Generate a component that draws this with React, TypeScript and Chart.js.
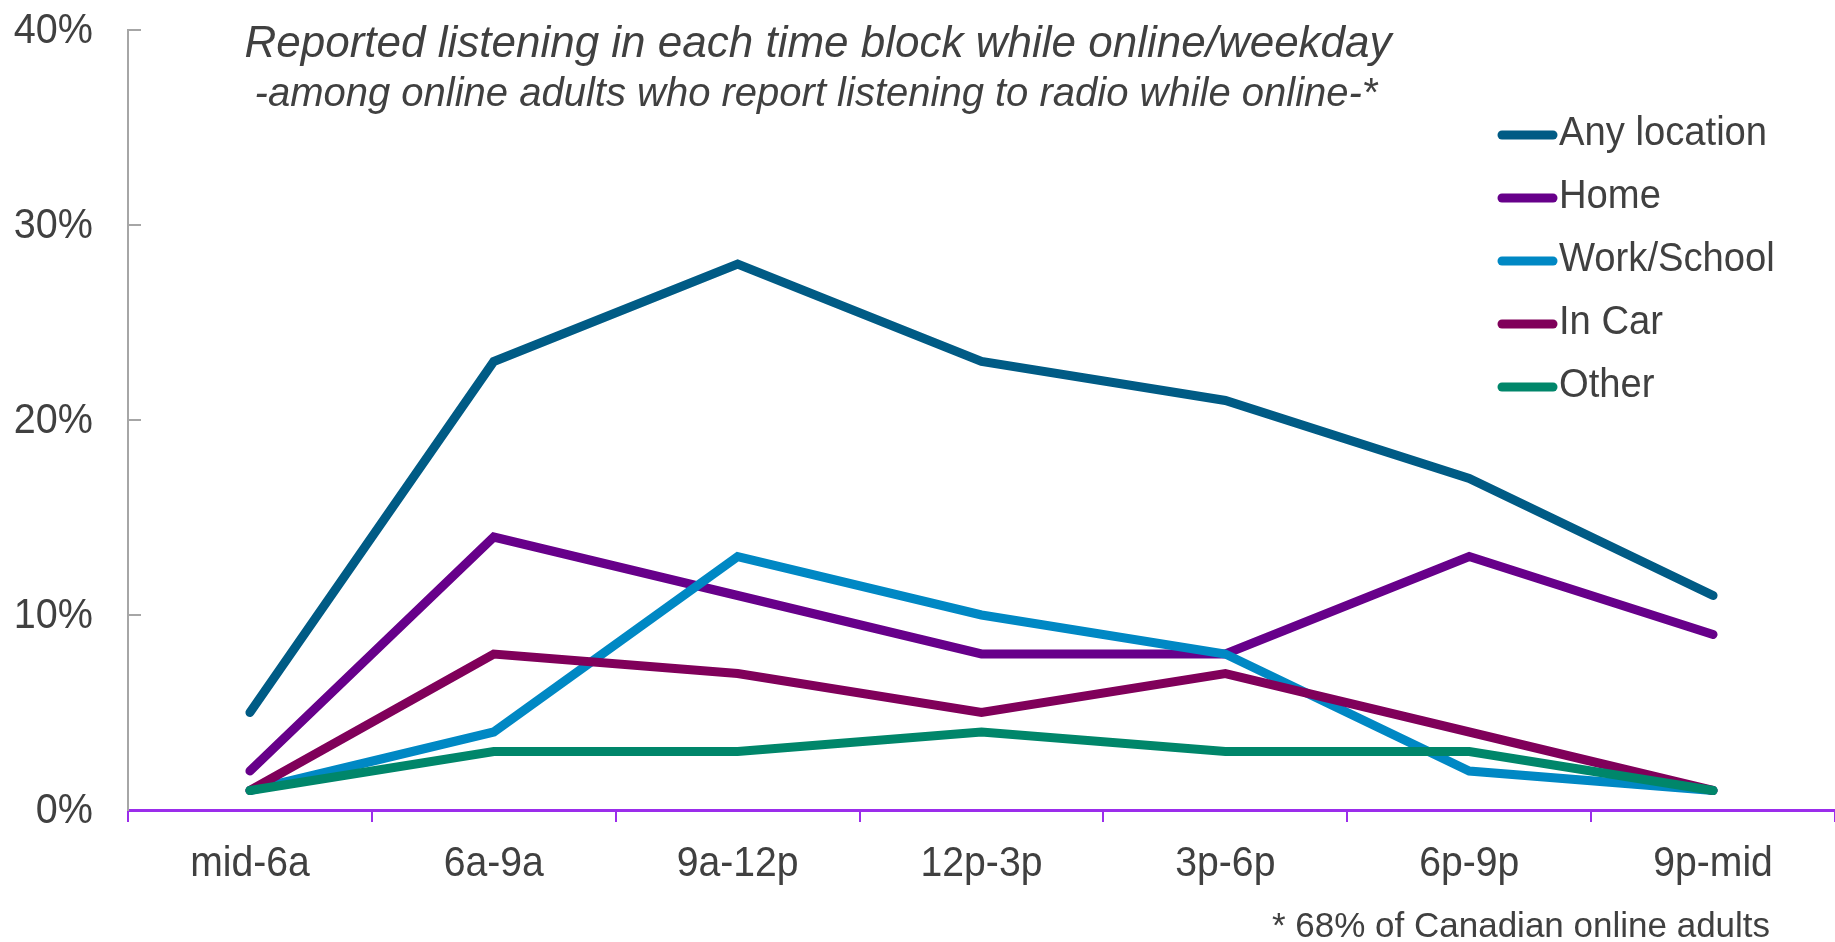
import React, { useEffect, useRef } from "react";
import { Chart, registerables } from "chart.js";

Chart.register(...registerables);

const categories = ["mid-6a", "6a-9a", "9a-12p", "12p-3p", "3p-6p", "6p-9p", "9p-mid"];
const anyLocation = [5, 23, 28, 23, 21, 17, 11];
const home = [2, 14, 11, 8, 8, 13, 9];
const workSchool = [1, 4, 13, 10, 8, 2, 1];
const inCar = [1, 8, 7, 5, 7, 4, 1];
const other = [1, 3, 3, 4, 3, 3, 1];
const seriesNames = ["Any location", "Home", "Work/School", "In Car", "Other"];
const seriesColors = ["#005B85", "#67008A", "#0088C4", "#80005A", "#00866A"];
const yTickValues = [0, 10, 20, 30, 40];
const titleLine1 = "Reported listening in each time block while online/weekday";
const titleLine2 = "-among online adults who report listening to radio while online-*";
const footnote = "* 68% of Canadian online adults";

const TEXT = "#404040";
const PURPLE = "#9B2DEB";
const AXIS_GRAY = "#A6A6A6";
const FONT = "'Liberation Sans', Arial, sans-serif";

function condensedText(ctx: any, text: string, x: number, y: number, sx: number) {
  ctx.save();
  ctx.translate(x, y);
  ctx.scale(sx, 1);
  ctx.fillText(text, 0, 0);
  ctx.restore();
}

const overlayPlugin = {
  id: "overlay",
  beforeDatasetsDraw(chart: any) {
    const ctx = chart.ctx;
    const y = chart.scales.y;
    const area = chart.chartArea;
    ctx.save();
    ctx.strokeStyle = AXIS_GRAY;
    ctx.lineWidth = 2;
    y.ticks.forEach((t: any) => {
      if (t.value === 0) return;
      const py = Math.round(y.getPixelForValue(t.value));
      ctx.beginPath();
      ctx.moveTo(area.left, py);
      ctx.lineTo(area.left + 13, py);
      ctx.stroke();
    });
    ctx.restore();
  },
  afterDraw(chart: any) {
    const ctx = chart.ctx;
    const xs = chart.scales.x;
    const ys = chart.scales.y;
    ctx.save();
    ctx.fillStyle = TEXT;

    // axis tick labels (condensed like the original)
    ctx.font = `43px ${FONT}`;
    ctx.textBaseline = "middle";
    ctx.textAlign = "right";
    ys.ticks.forEach((t: any) => {
      condensedText(ctx, `${t.value}%`, 93, ys.getPixelForValue(t.value) + 1, 0.92);
    });
    ctx.textAlign = "center";
    categories.forEach((c, i) => {
      condensedText(ctx, c, xs.getPixelForValue(i), 864, 0.91);
    });

    // title
    ctx.textAlign = "center";
    ctx.textBaseline = "alphabetic";
    ctx.font = `italic 44px ${FONT}`;
    ctx.fillText(titleLine1, 818, 57);
    ctx.font = `italic 40px ${FONT}`;
    ctx.fillText(titleLine2, 816, 106);

    // legend
    const ds = chart.data.datasets;
    ctx.textAlign = "left";
    ctx.textBaseline = "middle";
    ctx.font = `40px ${FONT}`;
    ds.forEach((d: any, i: number) => {
      const cy = 135 + i * 63;
      ctx.strokeStyle = d.borderColor;
      ctx.lineWidth = 9;
      ctx.lineCap = "round";
      ctx.beginPath();
      ctx.moveTo(1502, cy);
      ctx.lineTo(1553, cy);
      ctx.stroke();
      ctx.fillStyle = TEXT;
      condensedText(ctx, d.label, 1559, cy - 1, 0.955);
    });

    // footnote
    ctx.textAlign = "center";
    ctx.textBaseline = "alphabetic";
    ctx.font = `35px ${FONT}`;
    ctx.fillStyle = TEXT;
    ctx.fillText(footnote, 1521, 937);
    ctx.restore();
  },
};

export default function App() {
  const ref = useRef<HTMLCanvasElement | null>(null);
  useEffect(() => {
    if (!ref.current) return;
    const values = [anyLocation, home, workSchool, inCar, other];
    const chart = new Chart(ref.current, {
      type: "line",
      data: {
        labels: categories,
        datasets: values.map((v, i) => ({
          label: seriesNames[i],
          data: v,
          borderColor: seriesColors[i],
          backgroundColor: seriesColors[i],
          borderWidth: 9,
          borderCapStyle: "round",
          borderJoinStyle: "miter",
          pointRadius: 0,
          tension: 0,
          fill: false,
          order: values.length - i,
        })),
      },
      options: {
        responsive: false,
        maintainAspectRatio: false,
        animation: false,
        layout: { padding: { left: 0, right: 0, top: 30, bottom: 0 } },
        plugins: {
          legend: { display: false },
          title: { display: false },
          tooltip: { enabled: false },
        },
        scales: {
          x: {
            type: "category",
            offset: true,
            grid: {
              display: true,
              offset: true,
              drawOnChartArea: false,
              drawTicks: true,
              tickLength: 12,
              color: PURPLE,
              lineWidth: 2,
            },
            border: { display: true, color: PURPLE, width: 3 },
            ticks: { display: false, autoSkip: false, maxRotation: 0 },
            afterFit(scale: any) {
              scale.height = 132;
              scale.paddingLeft = 0;
              scale.paddingRight = 0;
            },
          },
          y: {
            min: 0,
            max: 40,
            afterBuildTicks(scale: any) {
              scale.ticks = yTickValues.map((v) => ({ value: v }));
            },
            grid: { display: false, drawTicks: false },
            border: { display: true, color: AXIS_GRAY, width: 2 },
            ticks: { display: false },
            afterFit(scale: any) {
              scale.width = 128;
              scale.paddingTop = 0;
              scale.paddingBottom = 0;
            },
          },
        },
      },
      plugins: [overlayPlugin],
    });
    return () => chart.destroy();
  }, []);
  return (
    <div style={{ position: "fixed", left: 0, top: 0, width: 1835, height: 942, background: "#fff" }}>
      <canvas ref={ref} width={1835} height={942} style={{ display: "block" }} />
    </div>
  );
}
